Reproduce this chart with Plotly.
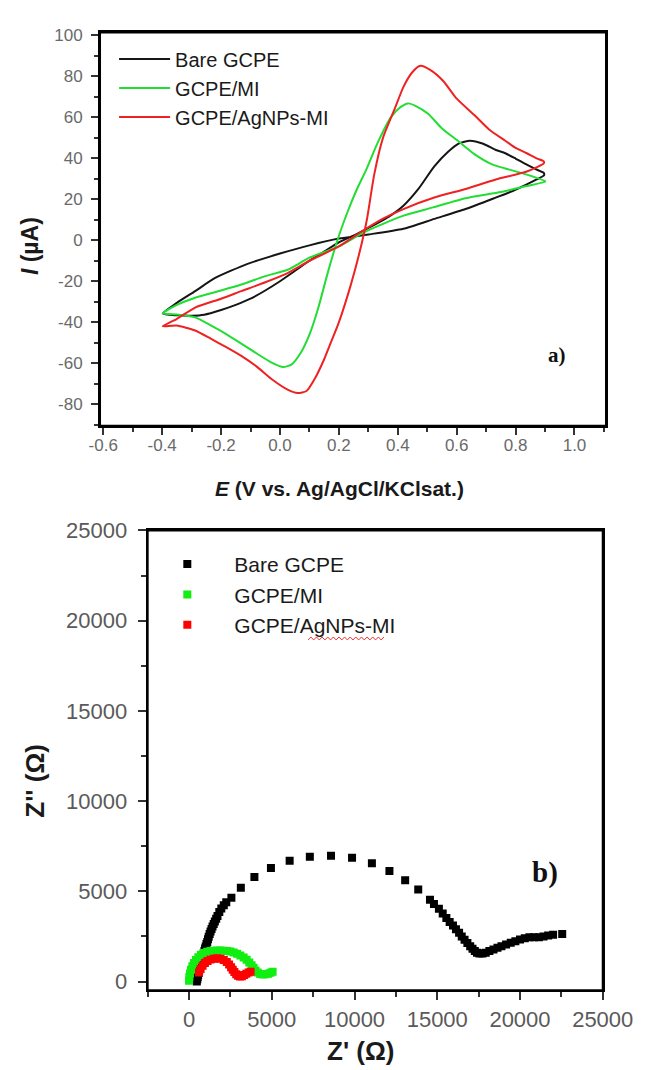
import plotly.graph_objects as go

W, H = 667, 1070

# ---------------- (a) cyclic voltammograms ----------------
cv_bare_E = [-0.398, -0.35, -0.30, -0.257, -0.20, -0.15, -0.10, -0.05, 0.00, 0.05, 0.10, 0.15, 0.20,
             0.26, 0.32, 0.37, 0.419, 0.47, 0.524, 0.57, 0.608, 0.645, 0.69, 0.733, 0.765, 0.80, 0.838,
             0.87, 0.896, 0.896, 0.87, 0.838, 0.79, 0.733, 0.63, 0.524, 0.419, 0.30, 0.20, 0.10, 0.00,
             -0.11, -0.22, -0.288, -0.35, -0.398]
cv_bare_I = [-35.7, -36.6, -36.8, -36.3, -34.0, -31.5, -28.5, -24.5, -20.0, -15.0, -10.0, -5.5, -1.0,
             3.0, 7.5, 11.5, 16.8, 25.0, 36.0, 43.0, 47.2, 48.5, 47.0, 44.0, 42.4, 39.8, 36.8,
             34.5, 32.8, 31.5, 29.5, 27.2, 24.0, 20.8, 15.2, 10.4, 5.6, 2.8, 0.8, -2.5, -6.5,
             -11.5, -18.4, -24.8, -30.5, -35.7]

cv_mi_E = [-0.398, -0.35, -0.288, -0.235, -0.184, -0.13, -0.079, -0.03, 0.011, 0.04, 0.07, 0.10, 0.13,
           0.16, 0.195, 0.23, 0.26, 0.293, 0.33, 0.377, 0.41, 0.435, 0.46, 0.503, 0.55, 0.608, 0.66,
           0.72, 0.765, 0.838, 0.90, 0.90, 0.838, 0.75, 0.63, 0.52, 0.42, 0.35, 0.28, 0.20, 0.10,
           0.026, -0.05, -0.131, -0.20, -0.288, -0.35, -0.398]
cv_mi_I = [-35.7, -36.2, -37.6, -41.5, -45.6, -50.5, -55.2, -59.5, -61.8, -60.5, -55.0, -46.0, -33.0,
           -17.0, 0.0, 14.0, 24.5, 34.4, 47.0, 60.0, 65.0, 66.7, 65.5, 61.6, 54.5, 48.0, 42.0,
           37.0, 35.0, 32.0, 28.8, 28.5, 26.4, 23.5, 20.5, 16.0, 12.0, 8.0, 3.5, -3.0, -8.5,
           -14.4, -17.5, -21.6, -24.5, -28.0, -31.5, -35.7]

cv_ag_E = [-0.398, -0.351, -0.288, -0.235, -0.184, -0.13, -0.079, -0.03, 0.026, 0.06, 0.09, 0.12, 0.15,
           0.175, 0.20, 0.24, 0.27, 0.295, 0.32, 0.35, 0.388, 0.42, 0.45, 0.477, 0.51, 0.555, 0.60,
           0.66, 0.71, 0.765, 0.80, 0.838, 0.87, 0.896, 0.896, 0.838, 0.733, 0.63, 0.524, 0.419,
           0.35, 0.28, 0.20, 0.10, 0.026, -0.05, -0.131, -0.20, -0.288, -0.351, -0.398]
cv_ag_I = [-41.9, -41.6, -44.0, -48.0, -52.0, -56.5, -61.6, -67.5, -72.8, -74.5, -73.5, -67.0, -58.0,
           -49.0, -40.0, -22.0, -6.0, 10.0, 32.0, 50.0, 63.5, 75.0, 82.0, 85.0, 83.0, 77.5, 69.0,
           61.0, 54.0, 48.5, 45.0, 42.4, 40.0, 38.4, 37.5, 33.5, 29.6, 25.0, 20.8, 15.2,
           10.5, 4.5, -3.0, -10.0, -16.0, -20.5, -24.8, -28.5, -32.8, -38.4, -41.9]

# ---------------- (b) Nyquist plots ----------------
eis_bare_re = [470, 500, 520, 550, 580, 610, 640, 670, 700, 735, 770, 810, 850, 890, 930, 970, 1010,
               1055, 1100, 1145, 1190, 1245, 1300, 1360, 1420, 1490, 1560, 1640, 1720, 1830, 1950,
               2100, 2250, 2560, 3130, 3950, 4950, 6080, 7300, 8580, 9850, 11050, 12110, 13060, 13850,
               14560, 14800, 15100, 15330, 15550, 15750, 15950, 16130, 16320, 16480, 16650, 16820,
               16990, 17130, 17270, 17400, 17550, 17730, 17930, 18150, 18400, 18640, 18880, 19160,
               19440, 19720, 20000, 20290, 20570, 20850, 21140, 21420, 21700, 22000, 22550]
eis_bare_im = [0, 130, 250, 370, 480, 600, 720, 840, 950, 1080, 1200, 1330, 1450, 1580, 1700, 1830, 1950,
               2080, 2200, 2340, 2480, 2630, 2780, 2920, 3050, 3190, 3330, 3480, 3640, 3850, 4050,
               4230, 4400, 4650, 5200, 5800, 6300, 6700, 6920, 6970, 6860, 6560, 6130, 5610, 5100,
               4530, 4300, 4030, 3770, 3520, 3300, 3110, 2900, 2700, 2500, 2320, 2140,
               1960, 1820, 1700, 1600, 1550, 1560, 1600, 1690, 1780, 1870, 1960, 2060,
               2150, 2240, 2330, 2400, 2460, 2450, 2460, 2500, 2550, 2590, 2640]

eis_mi_re = [0, 20, 60, 120, 200, 300, 420, 560, 720, 900, 1100, 1300, 1500, 1700, 1900, 2100, 2300,
             2500, 2700, 2900, 3100, 3300, 3480, 3640, 3780, 3900, 4020, 4150, 4300, 4460, 4620,
             4780, 4920, 5050]
eis_mi_im = [50, 250, 450, 650, 850, 1030, 1200, 1350, 1480, 1580, 1650, 1690, 1710, 1720, 1720, 1710,
             1690, 1660, 1610, 1540, 1450, 1340, 1210, 1060, 900, 760, 620, 500, 420, 390, 400,
             440, 490, 550]

eis_ag_re = [600, 700, 820, 960, 1120, 1300, 1500, 1700, 1900, 2100, 2280, 2420, 2540, 2640, 2740,
             2850, 2960, 3080, 3200, 3330, 3460, 3600, 3720]
eis_ag_im = [500, 700, 880, 1030, 1140, 1220, 1270, 1290, 1270, 1200, 1080, 940, 800, 660, 530,
             410, 320, 280, 300, 360, 430, 500, 550]

names = ["Bare GCPE", "GCPE/MI", "GCPE/AgNPs-MI"]
line_colors = ["#151515", "#22dd33", "#ee2222"]
mark_colors = ["#000000", "#11ee11", "#ff0000"]

x_ticks_a = [-0.6, -0.4, -0.2, 0.0, 0.2, 0.4, 0.6, 0.8, 1.0]
x_ticktext_a = ["-0.6", "-0.4", "-0.2", "0.0", "0.2", "0.4", "0.6", "0.8", "1.0"]
y_ticks_a = [-80, -60, -40, -20, 0, 20, 40, 60, 80, 100]
y_ticktext_a = ["-80", "-60", "-40", "-20", "0", "20", "40", "60", "80", "100"]
ticks_b = [0, 5000, 10000, 15000, 20000, 25000]
ticktext_b = ["0", "5000", "10000", "15000", "20000", "25000"]

def px_x(p):
    return p / W

def px_y(p):
    return 1 - p / H

fig = go.Figure()

for E, I, n, c in zip([cv_bare_E, cv_mi_E, cv_ag_E], [cv_bare_I, cv_mi_I, cv_ag_I], names, line_colors):
    fig.add_trace(go.Scatter(x=E, y=I, mode="lines", name=n,
                             line=dict(color=c, width=2, shape="spline", smoothing=0.6),
                             xaxis="x", yaxis="y", legend="legend"))

for re_, im_, n, c in zip([eis_bare_re, eis_mi_re, eis_ag_re], [eis_bare_im, eis_mi_im, eis_ag_im],
                          names, mark_colors):
    fig.add_trace(go.Scatter(x=re_, y=im_, mode="markers", name=n,
                             marker=dict(symbol="square", size=8, color=c, line=dict(width=0)),
                             xaxis="x2", yaxis="y2", legend="legend2"))

tick_font_a = dict(family="Liberation Sans, Arial, sans-serif", size=17, color="#6a6a6a")
tick_font_b = dict(family="Liberation Sans, Arial, sans-serif", size=22, color="#5a5a5a")
axis_common = dict(showline=True, linecolor="#000000", linewidth=2, mirror=True,
                   ticks="outside", tickcolor="#333333", tickwidth=1.5, showgrid=False,
                   zeroline=False)

fig.update_layout(
    width=W, height=H,
    margin=dict(l=0, r=0, t=0, b=0),
    paper_bgcolor="white", plot_bgcolor="white",
    xaxis=dict(domain=[px_x(95), px_x(635)], range=[-0.611, 1.107], anchor="y",
               tickvals=x_ticks_a, ticktext=x_ticktext_a, ticklen=7, tickfont=tick_font_a,
               ticklabelstandoff=-4,
               minor=dict(dtick=0.1, tick0=0, ticks="outside", ticklen=4, tickcolor="#333333"),
               **axis_common),
    yaxis=dict(domain=[px_y(420), px_y(20.7)], range=[-90.4, 101.3], anchor="x",
               tickvals=y_ticks_a, ticktext=y_ticktext_a, ticklen=7, tickfont=tick_font_a,
               ticklabelstandoff=5,
               minor=dict(dtick=10, tick0=0, ticks="outside", ticklen=4, tickcolor="#333333"),
               **axis_common),
    xaxis2=dict(domain=[px_x(145.85), px_x(631.5)], range=[-2500, 25000], anchor="y2",
                tickvals=ticks_b, ticktext=ticktext_b, ticklen=8, tickfont=tick_font_b,
                minor=dict(dtick=2500, tick0=0, ticks="outside", ticklen=5, tickcolor="#333333"),
                **axis_common),
    yaxis2=dict(domain=[px_y(993), px_y(526.3)], range=[-475, 25000], anchor="x2",
                tickvals=ticks_b, ticktext=ticktext_b, ticklen=8, tickfont=tick_font_b,
                ticklabelstandoff=6,
                minor=dict(dtick=2500, tick0=0, ticks="outside", ticklen=5, tickcolor="#333333"),
                **axis_common),
    legend=dict(x=px_x(110), y=px_y(28), xanchor="left", yanchor="top",
                bgcolor="rgba(0,0,0,0)", borderwidth=0, itemwidth=51, tracegroupgap=0,
                font=dict(family="Liberation Sans, Arial, sans-serif", size=20, color="#1a1a1a")),
    legend2=dict(x=px_x(138), y=px_y(540), xanchor="left", yanchor="top",
                 bgcolor="rgba(0,0,0,0)", borderwidth=0, itemwidth=84, tracegroupgap=0,
                 font=dict(family="Liberation Sans, Arial, sans-serif", size=21, color="#1a1a1a")),
    showlegend=True,
)

# plot frames (box around each panel)
for xr, yr in [("x domain", "y domain"), ("x2 domain", "y2 domain")]:
    fig.add_shape(type="rect", xref=xr, yref=yr, x0=0, x1=1, y0=0, y1=1,
                  line=dict(color="#000000", width=2), fillcolor="rgba(0,0,0,0)", layer="above")

title_font = dict(family="Liberation Sans, Arial, sans-serif", color="#1a1a1a")
annotations = [
    dict(text="<b><i>E</i> (V vs. Ag/AgCl/KClsat.)</b>", x=px_x(351), y=px_y(484), xref="paper", yref="paper",
         showarrow=False, xanchor="center", yanchor="middle", font=dict(size=21, **title_font)),
    dict(text="<b><i>I</i> (µA)</b>", x=px_x(21), y=px_y(238), xref="paper", yref="paper",
         showarrow=False, textangle=-90, xanchor="center", yanchor="middle", font=dict(size=23, **title_font)),
    dict(text="<b>Z' (Ω)</b>", x=px_x(373), y=px_y(1055), xref="paper", yref="paper",
         showarrow=False, xanchor="center", yanchor="middle", font=dict(size=26, **title_font)),
    dict(text="<b>Z'' (Ω)</b>", x=px_x(26), y=px_y(780), xref="paper", yref="paper",
         showarrow=False, textangle=-90, xanchor="center", yanchor="middle", font=dict(size=26, **title_font)),
    dict(text="<b>a)</b>", x=0.941, y=-55.8, xref="x", yref="y", showarrow=False,
         xanchor="center", yanchor="middle",
         font=dict(family="Liberation Serif, Times New Roman, serif", size=21, color="#111111")),
    dict(text="<b>b)</b>", x=21518, y=6048, xref="x2", yref="y2", showarrow=False,
         xanchor="center", yanchor="middle",
         font=dict(family="Liberation Serif, Times New Roman, serif", size=29, color="#111111")),
]
fig.update_layout(annotations=annotations)

# spell-check style wavy underline under "AgNPs" in legend (b)
x0, x1, yb = 317, 400, 636
pts = []
k = 0
xx = x0
while xx <= x1:
    yy = yb + (1.5 if k % 2 == 0 else -1.5)
    pts.append(f"{px_x(xx):.5f},{px_y(yy):.5f}")
    xx += 3
    k += 1
path = "M " + " L ".join(pts)
fig.add_shape(type="path", path=path, xref="paper", yref="paper",
              line=dict(color="#ee3333", width=1))

fig.write_html("out.html")
